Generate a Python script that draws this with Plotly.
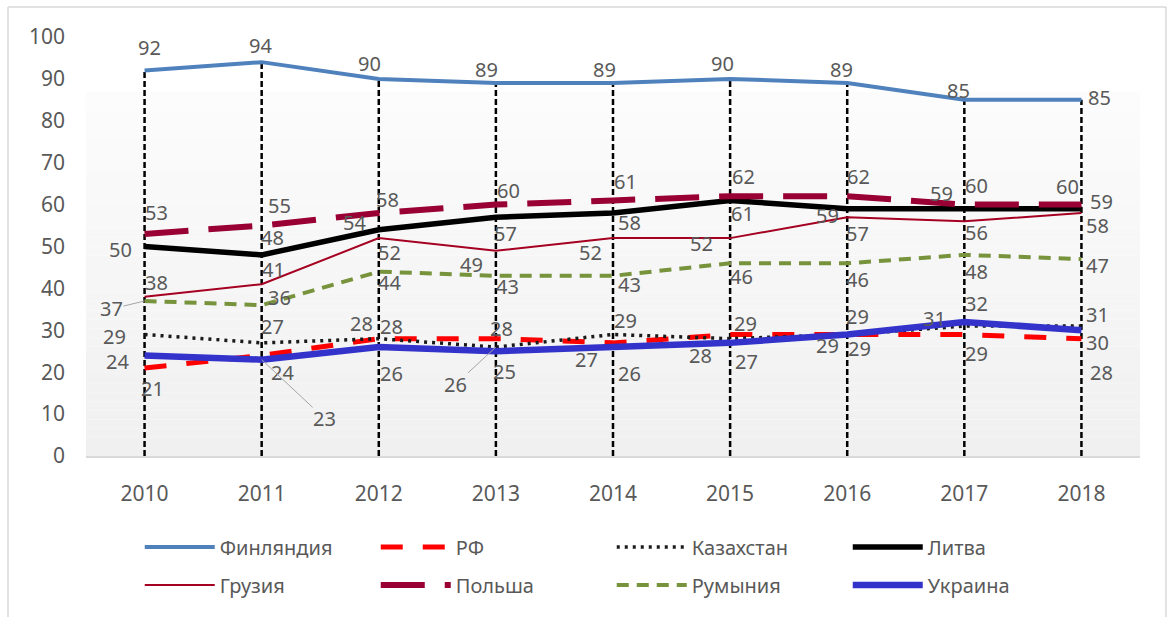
import plotly.graph_objects as go

years = ["2010", "2011", "2012", "2013", "2014", "2015", "2016", "2017", "2018"]
y_ticks = [0, 10, 20, 30, 40, 50, 60, 70, 80, 90, 100]

finland = [92, 94, 90, 89, 89, 90, 89, 85, 85]
rf = [21, 24, 28, 28, 27, 29, 29, 29, 28]
kazakhstan = [29, 27, 28, 26, 29, 28, 29, 31, 31]
lithuania = [50, 48, 54, 57, 58, 61, 59, 59, 59]
georgia = [38, 41, 52, 49, 52, 52, 57, 56, 58]
poland = [53, 55, 58, 60, 61, 62, 62, 60, 60]
romania = [37, 36, 44, 43, 43, 46, 46, 48, 47]
ukraine = [24, 23, 26, 25, 26, 27, 29, 32, 30]

names = ["Финляндия", "РФ", "Казахстан", "Литва", "Грузия", "Польша", "Румыния", "Украина"]
values = [finland, rf, kazakhstan, lithuania, georgia, poland, romania, ukraine]

# styles
styles = [
    dict(color="#4f81bd", width=4, dash="solid"),
    dict(color="#ff0000", width=5, dash="22px,20px"),
    dict(color="#1a1a1a", width=3.5, dash="3px,5px"),
    dict(color="#000000", width=5.5, dash="solid"),
    dict(color="#a50021", width=2, dash="solid"),
    dict(color="#990033", width=6, dash="44px,20px"),
    dict(color="#77933c", width=4, dash="12px,8px"),
    dict(color="#3333cc", width=6.5, dash="solid"),
]

# label offsets in px (dx right, dy down); some labels get a leader line
label_offsets = [
    [(5, -23), (-1, -17), (-9, -15), (-9, -14), (-9, -14), (-8, -15), (-6, -14), (-6, -9), (18, -2)],
    [(8, 20), (21, 17), (13, -12), (6, -10), (-27, 17), (15, -11), (12, 14), (12, 19), (20, 34)],
    [(-30, 2), (11, -16), (-17, -15), (-40, 37), (12, -14), (-30, 17), (10, -18), (-30, -8), (16, -12)],
    [(-24, 3), (11, -17), (-24, -7), (10, 16), (16, 10), (12, 13), (-20, 7), (-23, -15), (20, -7)],
    [(12, -14), (12, -15), (11, 14), (-24, 14), (-23, 14), (-29, 5), (10, 16), (12, 11), (16, 13)],
    [(12, -21), (18, -20), (9, -13), (13, -14), (12, -19), (13, -20), (11, -20), (12, -19), (-14, -18)],
    [(-33, 8), (18, -8), (11, 11), (12, 11), (16, 9), (11, 13), (10, 16), (12, 17), (16, 6)],
    [(-27, 6), (63, 59), (13, 26), (9, 20), (16, 26), (16, 19), (-20, 11), (12, -18), (16, 12)],
]
leaders = {(2, 3), (6, 0), (7, 1)}

FONT = "Noto Sans"
TXT = "#595959"

fig = go.Figure()

# drop lines
dlx, dly = [], []
for j, yr in enumerate(years):
    top = max(v[j] for v in values)
    dlx += [yr, yr, None]
    dly += [0, top, None]
fig.add_trace(go.Scatter(x=dlx, y=dly, mode="lines", showlegend=False, hoverinfo="skip",
                         line=dict(color="#000000", width=2.5, dash="6px,3px")))

for i, (nm, vals, st) in enumerate(zip(names, values, styles)):
    fig.add_trace(go.Scatter(
        x=years, y=vals, mode="lines", name=nm,
        line=dict(color=st["color"], width=st["width"], dash=st["dash"]),
        legend="legend" if i < 4 else "legend2",
    ))

for i, vals in enumerate(values):
    for j, v in enumerate(vals):
        ox, oy = label_offsets[i][j]
        if (i, j) in leaders:
            fig.add_annotation(x=j, y=v, xref="x", yref="y", text=str(v), showarrow=True,
                               ax=ox, ay=oy, arrowhead=0, arrowwidth=1,
                               arrowcolor="#a6a6a6", standoff=0, borderpad=0,
                               font=dict(family=FONT, size=20, color=TXT))
        else:
            fig.add_annotation(x=j, y=v, xref="x", yref="y", text=str(v), showarrow=False,
                               xshift=ox, yshift=-oy, borderpad=0,
                               font=dict(family=FONT, size=20, color=TXT))

# gradient background bands + border
n = 40
top_frac = 0.8687
for k in range(n):
    y0 = top_frac * k / n
    y1 = top_frac * (k + 1) / n
    c = int(round(240 + (252 - 240) * k / (n - 1)))
    fig.add_shape(type="rect", xref="paper", yref="paper", x0=0, x1=1, y0=y0, y1=y1,
                  fillcolor=f"rgb({c},{c},{c})", line=dict(width=0), layer="below")
for (x0, y0, x1, y1) in [(-0.0740, -0.40, -0.0740, 1.0716), (-0.0740, 1.0716, 1.0247, 1.0716),
                         (1.0247, 1.0716, 1.0247, -0.40)]:
    fig.add_shape(type="line", xref="paper", yref="paper", x0=x0, y0=y0, x1=x1, y1=y1,
                  line=dict(color="#d9d9d9", width=1.5))

legend_common = dict(orientation="h", xanchor="left", yanchor="middle", x=0.051,
                     entrywidth=151, entrywidthmode="pixels", itemwidth=70,
                     font=dict(family=FONT, size=20, color=TXT), bgcolor="rgba(0,0,0,0)")

fig.update_layout(
    width=1168, height=617,
    margin=dict(l=86, r=28, t=37, b=161),
    paper_bgcolor="white", plot_bgcolor="rgba(0,0,0,0)",
    xaxis=dict(type="category", range=[-0.5, 8.5], showgrid=False, zeroline=False,
               showline=True, linecolor="#d9d9d9", linewidth=2, ticks="",
               ticklabelstandoff=18, tickfont=dict(family=FONT, size=21, color=TXT)),
    yaxis=dict(range=[0, 100], tickvals=y_ticks, showgrid=False, zeroline=False,
               showline=False, ticks="", ticklabelstandoff=20,
               tickfont=dict(family=FONT, size=21, color=TXT)),
    legend=dict(legend_common, y=-0.217),
    legend2=dict(legend_common, y=-0.308),
    showlegend=True,
)

fig.write_html("out.html", config={"displayModeBar": False},
               post_script="document.body.style.margin='0';")
